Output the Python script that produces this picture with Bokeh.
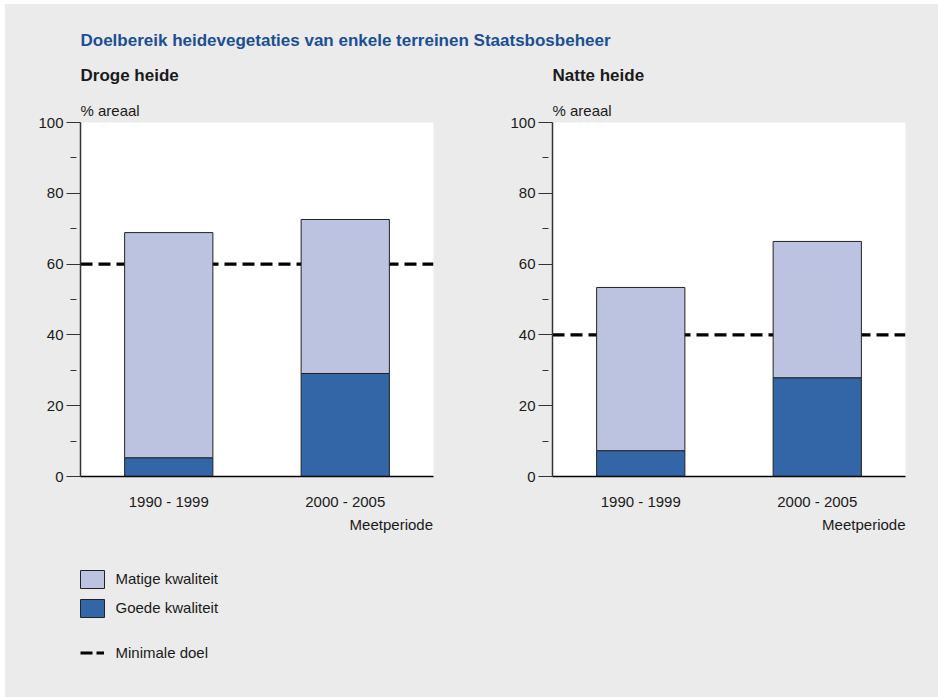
from bokeh.plotting import figure
from bokeh.layouts import column, row
from bokeh.models import Range1d, FactorRange, Span, ColumnDataSource, FixedTicker
from bokeh.core.properties import value
from bokeh.embed import file_html
from bokeh.resources import INLINE

# ---------------- data ----------------
title = "Doelbereik heidevegetaties van enkele terreinen Staatsbosbeheer"
panel_titles = ["Droge heide", "Natte heide"]
periods = ["1990 - 1999", "2000 - 2005"]
goede_droog = [5.3, 29.1]
matige_droog = [63.6, 43.5]
goede_nat = [7.3, 27.9]
matige_nat = [46.1, 38.5]
doel = [60, 40]
y_major = [0, 20, 40, 60, 80, 100]
y_minor = [10, 30, 50, 70, 90]
y_label = "% areaal"
x_label = "Meetperiode"
legend_labels = ["Matige kwaliteit", "Goede kwaliteit", "Minimale doel"]

# ---------------- style ----------------
FONT = "Liberation Sans"
BG = "#EBEBEB"
LIGHT = "#BBC3E0"
DARK = "#3366A6"
TITLE_BLUE = "#1A4F96"
EDGE = "#222222"
TXT = "#1A1A1A"
W = 933
OX, OY = 5, 4  # layout offset on page
TSHIFT = 7     # svg text baseline correction


def canvas(w, h):
    f = figure(width=w, height=h, x_range=Range1d(0, w), y_range=Range1d(h, 0),
               output_backend="svg", toolbar_location=None, tools="",
               x_axis_location=None, y_axis_location=None, min_border=0)
    f.grid.visible = False
    f.outline_line_color = None
    f.background_fill_color = BG
    f.border_fill_color = BG
    return f


def txt(f, x, y, s, size, bold=False, color=TXT, align="left"):
    f.text(x=[x], y=[y - TSHIFT], text=[s], text_font=value(FONT), text_font_size=size,
           text_font_style="bold" if bold else "normal", text_color=color,
           text_align=align, text_baseline="alphabetic")


# header (page y 4..92)
HEAD_TOP, HEAD_BOT = 4, 92
head = canvas(W, HEAD_BOT - HEAD_TOP)
hy = lambda y: y - HEAD_TOP
hx = lambda x: x - OX
txt(head, hx(80), hy(46.5), title, "17px", bold=True, color=TITLE_BLUE)
txt(head, hx(80), hy(81.5), panel_titles[0], "17px", bold=True)
txt(head, hx(552), hy(81.5), panel_titles[1], "17px", bold=True)


def chart(goede, matige, target, left_border, right_border):
    src = ColumnDataSource(dict(period=periods, goede=goede, matige=matige))
    p = figure(width=left_border + 353 + right_border, height=512 - HEAD_BOT,
               x_range=FactorRange(*periods), y_range=Range1d(0, 100),
               output_backend="svg", toolbar_location=None, tools="",
               min_border_left=left_border, min_border_right=right_border,
               min_border_top=122 - HEAD_BOT, min_border_bottom=36,
               title=y_label)
    p.title.text_font = FONT
    p.title.text_font_size = "15px"
    p.title.text_font_style = "normal"
    p.title.text_color = TXT
    p.title.align = "left"
    p.title.standoff = 8
    p.title.offset = 0
    p.background_fill_color = "white"
    p.border_fill_color = BG
    p.outline_line_color = None
    p.grid.visible = False
    p.add_layout(Span(location=target, dimension="width", line_color="black",
                      line_width=3.2, line_dash="12 6", level="underlay"))
    p.vbar_stack(["goede", "matige"], x="period", width=0.5, source=src,
                 fill_color=[DARK, LIGHT], line_color=EDGE, line_width=1)
    ya = p.yaxis[0]
    ya.ticker = FixedTicker(ticks=y_major, minor_ticks=y_minor)
    ya.axis_line_color = "#333333"
    ya.axis_line_width = 1.5
    ya.major_tick_line_color = "#333333"
    ya.major_tick_line_width = 1.2
    ya.major_tick_in = 0
    ya.major_tick_out = 14
    ya.minor_tick_line_color = "#333333"
    ya.minor_tick_in = -4
    ya.minor_tick_out = 10
    ya.major_label_standoff = 3
    ya.major_label_text_font = FONT
    ya.major_label_text_font_size = "15px"
    ya.major_label_text_color = TXT
    xa = p.xaxis[0]
    xa.axis_line_color = "black"
    xa.axis_line_width = 1.5
    xa.major_tick_out = 0
    xa.major_tick_in = 0
    xa.minor_tick_out = 0
    xa.major_label_standoff = 16
    xa.major_label_text_font = FONT
    xa.major_label_text_font_size = "15px"
    xa.major_label_text_color = TXT
    return p


left = chart(goede_droog, matige_droog, doel[0], 80 - OX, 36)
right = chart(goede_nat, matige_nat, doel[1], 552 - 469, 33)

# footer (page y 512..697)
FOOT_TOP = 512
foot = canvas(W, 697 - FOOT_TOP)
fy = lambda y: y - FOOT_TOP
fx = lambda x: x - OX
txt(foot, fx(432.5), fy(530.5), x_label, "15px", align="right")
txt(foot, fx(905), fy(530.5), x_label, "15px", align="right")
foot.quad(left=[fx(80)], right=[fx(104)], top=[fy(570)], bottom=[fy(588)],
          fill_color=LIGHT, line_color=EDGE, line_width=1)
foot.quad(left=[fx(80)], right=[fx(104)], top=[fy(599)], bottom=[fy(617)],
          fill_color=DARK, line_color=EDGE, line_width=1)
foot.line(x=[fx(80), fx(103.5)], y=[fy(652.5), fy(652.5)], line_color="black",
          line_width=3.2, line_dash="12 4")
txt(foot, fx(115), fy(585), legend_labels[0], "15px")
txt(foot, fx(115), fy(614), legend_labels[1], "15px")
txt(foot, fx(115), fy(659), legend_labels[2], "15px")

layout = column(head, row(left, right, spacing=0), foot, spacing=0,
                margin=(OY, 0, 0, OX), styles={"background-color": BG})
open("out.html", "w").write(file_html(layout, INLINE))
